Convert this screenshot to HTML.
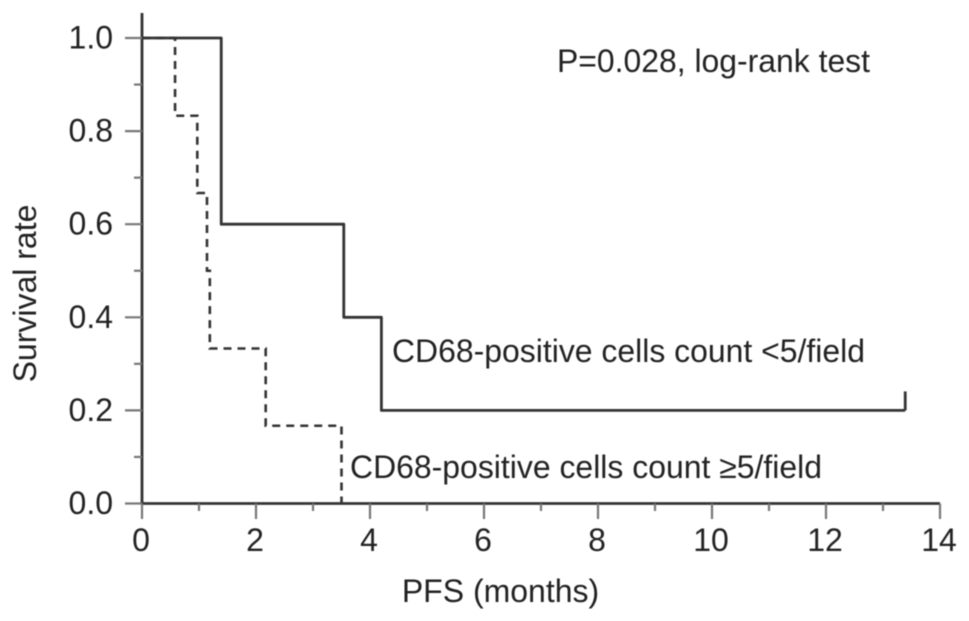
<!DOCTYPE html>
<html lang="en">
<head>
<meta charset="utf-8">
<title>Survival rate vs PFS</title>
<style>
html,body{margin:0;padding:0;background:#fff;width:969px;height:621px;overflow:hidden}
svg{display:block;filter:blur(0.55px)}
text{font-family:"Liberation Sans",Arial,sans-serif;fill:#222;font-size:32px}
</style>
</head>
<body>
<svg id="chart" width="969" height="621" viewBox="0 0 969 621" xmlns="http://www.w3.org/2000/svg"></svg>
<script>
const xTickLabels = [0, 2, 4, 6, 8, 10, 12, 14];
const xMinorTicks = [1, 3, 5, 7, 9, 11, 13];
const yTickLabels = ['0.0', '0.2', '0.4', '0.6', '0.8', '1.0'];
const yMinorTicks = [0.1, 0.3, 0.5, 0.7, 0.9];
const lowTimes = [0, 1.39, 3.54, 4.2, 13.39];
const lowSurvival = [1.0, 0.6, 0.4, 0.2, 0.2];
const lowCensorTimes = [13.39];
const lowCensorSurvival = [0.2];
const highTimes = [0, 0.58, 0.97, 1.14, 1.19, 2.17, 3.5];
const highSurvival = [1.0, 0.833, 0.667, 0.5, 0.333, 0.167, 0];

const svg = document.getElementById('chart');
const NS = 'http://www.w3.org/2000/svg';
const x = v => 142 + v * 57;
const y = v => 503.5 - v * 465.5;
const INK = '#333';

function add(tag, attrs, parent) {
  const el = document.createElementNS(NS, tag);
  for (const k in attrs) el.setAttribute(k, attrs[k]);
  (parent || svg).appendChild(el);
  return el;
}
function stepPath(times, values) {
  let d = 'M' + x(times[0]) + ' ' + y(values[0]);
  for (let i = 1; i < times.length; i++) {
    d += 'H' + x(times[i]) + 'V' + y(values[i]);
  }
  return d;
}

const yAxisLine = add('line', {x1: x(0), x2: x(0), y1: 13, y2: y(0), stroke: INK, 'stroke-width': 2.8});


const xAxisLine = add('line', {x1: x(0) - 1, x2: x(14), y1: y(0), y2: y(0), stroke: INK, 'stroke-width': 2.8});



xTickLabels.forEach(v => {
  const tick = add('line', {x1: x(v), x2: x(v), y1: y(0), y2: 519, stroke: '#777', 'stroke-width': 2.2});
  
  
  const label = add('text', {x: x(v) - 1, y: 551, 'text-anchor': 'middle'});
  label.textContent = v;
  
  
});
xMinorTicks.forEach(v => {
  const tick = add('line', {x1: x(v), x2: x(v), y1: y(0), y2: 511, stroke: '#777', 'stroke-width': 2.2});
  
  
});
yTickLabels.forEach(s => {
  const v = parseFloat(s);
  const tick = add('line', {x1: 125, x2: x(0), y1: y(v), y2: y(v), stroke: '#777', 'stroke-width': 2.2});
  
  
  const label = add('text', {x: 113, y: y(v) + 10.5, 'text-anchor': 'end'});
  label.textContent = s;
  
  
});
yMinorTicks.forEach(v => {
  const tick = add('line', {x1: 134, x2: x(0), y1: y(v), y2: y(v), stroke: '#777', 'stroke-width': 2.2});
  
  
});

const lowLine = add('path', {d: stepPath(lowTimes, lowSurvival), fill: 'none', stroke: INK, 'stroke-width': 2.8, 'stroke-linejoin': 'round'});


lowCensorTimes.forEach((t, i) => {
  const mark = add('line', {x1: x(t), x2: x(t), y1: y(lowCensorSurvival[i]), y2: y(lowCensorSurvival[i]) - 19, stroke: INK, 'stroke-width': 2.8});
  
  
});
const highLine = add('path', {d: stepPath(highTimes, highSurvival), fill: 'none', stroke: INK, 'stroke-width': 2.6, 'stroke-dasharray': '8 6'});



const yTitle = add('text', {transform: 'translate(36 293.5) rotate(-90)', 'text-anchor': 'middle'});
yTitle.textContent = 'Survival rate';


const xTitle = add('text', {x: 500.5, y: 602, 'text-anchor': 'middle'});
xTitle.textContent = 'PFS (months)';


const pLabel = add('text', {x: 557, y: 72, textLength: 313, lengthAdjust: 'spacingAndGlyphs'});
pLabel.textContent = 'P=0.028, log-rank test';


const lowLabel = add('text', {x: 392, y: 362, textLength: 473, lengthAdjust: 'spacingAndGlyphs'});
lowLabel.textContent = 'CD68-positive cells count <5/field';


const highLabel = add('text', {x: 350, y: 478, textLength: 472, lengthAdjust: 'spacingAndGlyphs'});
highLabel.textContent = 'CD68-positive cells count ≥5/field';


</script>
</body>
</html>
